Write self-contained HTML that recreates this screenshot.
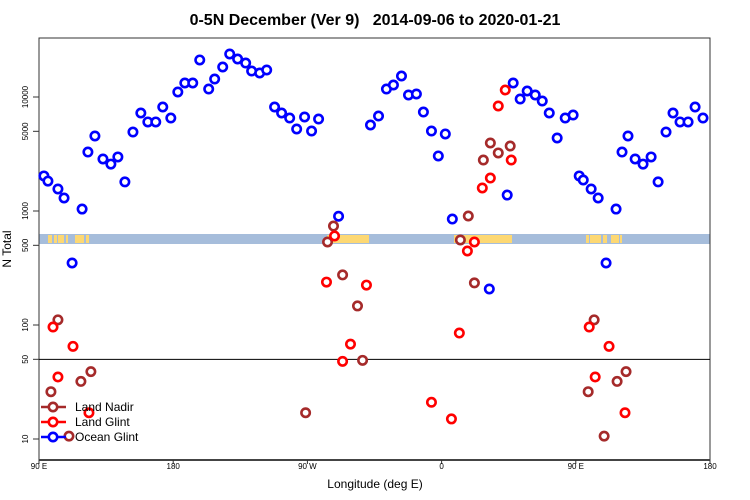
<!DOCTYPE html>
<html><head><meta charset="utf-8"><style>
body{margin:0;background:#fff}
svg{display:block;font-family:"Liberation Sans",sans-serif}
</style></head><body>
<svg id="c" width="750" height="500"></svg>
<script>
const nadirLon=[98,102.7,110.1,118.1,124.8,268.8,283.5,287.5,293.6,303.6,307,372.6,377.9,382,388,392.7,398,406,458.3,462.3,469,477.7,483.7];
const nadirVal=[26,111,10.6,32,39,17,535,738,275,147,49,557,904,234,2800,3950,3230,3715,26,111,10.6,32,39];
const glintLon=[99.4,102.7,112.8,123.5,282.8,288.2,293.6,298.9,309.6,353.2,366.6,371.9,377.3,382,387.3,392.7,398,402.7,406.7,459,463,472.3,483];
const glintVal=[96,35,65,17,238,604,48,68,224,21,15,85,446,535,1592,1946,8340,11520,2800,96,35,65,17];
const oceanLon=[93.3,96,102.7,106.8,112.2,118.9,122.8,127.5,132.9,138.2,142.9,147.6,153,158.3,163,168.3,173,178.4,183.1,187.8,193.1,197.8,203.8,207.8,213.2,217.9,223.2,228.6,232.6,238,242.7,248,252.7,258.1,262.8,268.1,272.8,277.5,290.9,312.3,317.7,323,327.7,333.1,337.8,343.1,347.8,353.2,357.8,362.5,367.2,392,404,408,412.7,417.4,422.8,427.5,432.2,437.5,442.9,448.2,452.3,455,460.3,465,470.3,477,481,485,489.8,495.1,500.5,505.2,510.5,515.2,519.9,525.3,530,535.3];
const oceanVal=[2030,1830,1560,1300,350,1040,3290,4550,2860,2580,2980,1800,4930,7240,6040,6040,8170,6540,11070,13270,13270,21130,11750,14380,18330,23840,21540,19860,16900,16240,17260,8170,7240,6540,5240,6680,5030,6410,900,5680,6810,11750,12740,15280,10420,10630,7380,5030,3040,4740,850,207,1380,13270,9600,11290,10420,9220,7240,4370,6540,6950,2030,1870,1560,1300,350,1040,3290,4550,2860,2580,2980,1800,4930,7240,6040,6040,8170,6540];
const yTicks=[10,50,100,500,1000,5000,10000];
const xTickLon=[90,180,270,360,450,540];
const xTickLabels=["90 E","180","90 W","0","90 E","180"];

const NS="http://www.w3.org/2000/svg";
const svg=document.getElementById('c');
const L=39,R=710,T=38,B=460;
const X=lon=>L+(lon-90)*(R-L)/450;
const Y=v=>439-114*(Math.log10(v)-1);
function mk(tag,attrs,parent){const e=document.createElementNS(NS,tag);for(const k in attrs)e.setAttribute(k,attrs[k]);(parent||svg).appendChild(e);return e;}

let t=mk('text',{x:375,y:25,'text-anchor':'middle','font-size':16,'font-weight':'bold',style:'white-space:pre'});
t.textContent="0-5N December (Ver 9)   2014-09-06 to 2020-01-21";



let band=mk('g',{});


mk('rect',{x:L,y:234,width:R-L,height:10,fill:'#a6bddb'},band);
[[48,4],[54,3],[58,6],[66,2],[75,3],[78,6],[86,3],[327,42],[454,4],[458,54],[586,3],[590,6],[596,5],[603,4],[611,8],[620,2]].forEach(([x,w])=>mk('rect',{x:x,y:235,width:w,height:8,fill:'#fdd873'},band));

let fr=mk('rect',{x:L,y:T,width:R-L,height:B-T,fill:'none',stroke:'#333','stroke-width':1});


let bl=mk('line',{x1:L,x2:R,y1:B,y2:B,stroke:'#444','stroke-width':2});


let hl=mk('line',{x1:L,x2:R,y1:Y(50),y2:Y(50),stroke:'#000','stroke-width':1});



yTicks.forEach(v=>{
  const y=Y(v);
  let tk=mk('line',{x1:L-6,x2:L,y1:y,y2:y,stroke:'#333'});
  
  
  let lb=mk('text',{x:0,y:0,transform:`translate(28,${y}) rotate(-90)`,'text-anchor':'middle','font-size':8});
  lb.textContent=v;
  
  
});
xTickLon.forEach((lon,i)=>{
  const x=X(lon);
  let tk=mk('line',{x1:x,x2:x,y1:B,y2:B+4,stroke:'#333'});
  
  
  let lb=mk('text',{x:x,y:469,'text-anchor':'middle','font-size':8});
  lb.textContent=xTickLabels[i];
  
  
});
let xt=mk('text',{x:375,y:488,'text-anchor':'middle','font-size':12});
xt.textContent="Longitude (deg E)";


let yt=mk('text',{x:0,y:0,transform:'translate(11,249) rotate(-90)','text-anchor':'middle','font-size':12});
yt.textContent="N Total";



function series(lons,vals,color,name){
  const g=mk('g',{});
  
  
  lons.forEach((lon,i)=>{
    const c=mk('circle',{cx:X(lon),cy:Y(vals[i]),r:4.2,fill:'#fff',stroke:color,'stroke-width':2.6},g);
    
    
  });
}
series(oceanLon,oceanVal,'#0000ff','ocean-glint');
series(nadirLon,nadirVal,'#a52a2a','land-nadir');
series(glintLon,glintVal,'#ff0000','land-glint');

const lg=mk('g',{});


[['Land Nadir','#a52a2a',407],['Land Glint','#ff0000',422],['Ocean Glint','#0000ff',437]].forEach(([n,c,y])=>{
  const e=mk('g',{},lg);
  
  
  mk('line',{x1:41,x2:66,y1:y,y2:y,stroke:c,'stroke-width':2.6},e);
  mk('circle',{cx:53,cy:y,r:4.2,fill:'#fff',stroke:c,'stroke-width':2.6},e);
  const tx=mk('text',{x:75,y:y+4,'font-size':12},e);
  tx.textContent=n;
});
</script>
</body></html>
